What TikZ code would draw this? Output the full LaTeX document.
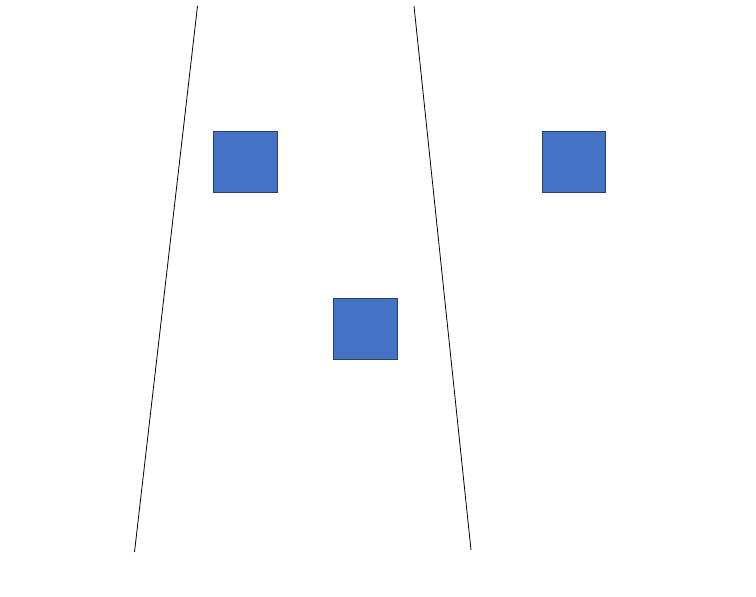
\documentclass[tikz,border=0pt]{standalone}
\begin{document}
\begin{tikzpicture}[x=1pt,y=-1pt,
  sq/.style={draw=blue!30!black!80, fill=boxblue, line width=0.8pt},
  ln/.style={draw=black, line width=0.8pt}]
\definecolor{boxblue}{HTML}{4472C4}
\colorlet{sqborder}{black}
\useasboundingbox (0,0) rectangle (756,597);
\coordinate (l1) at (197.5,6);
\coordinate (l2) at (134.5,552);
\coordinate (r1) at (414,6);
\coordinate (r2) at (471,550);
\draw[ln] (l1) -- (l2);
\draw[ln] (r1) -- (r2);
\definecolor{bord}{HTML}{2F3F5F}
\node[draw=bord, fill=boxblue, line width=0.8pt, minimum width=64pt, minimum height=61pt, inner sep=0pt] (a) at (245,161.5) {};
\node[draw=bord, fill=boxblue, line width=0.8pt, minimum width=63pt, minimum height=61pt, inner sep=0pt] (b) at (573.5,161.5) {};
\node[draw=bord, fill=boxblue, line width=0.8pt, minimum width=64pt, minimum height=61pt, inner sep=0pt] (c) at (365,328.5) {};
\end{tikzpicture}
\end{document}
